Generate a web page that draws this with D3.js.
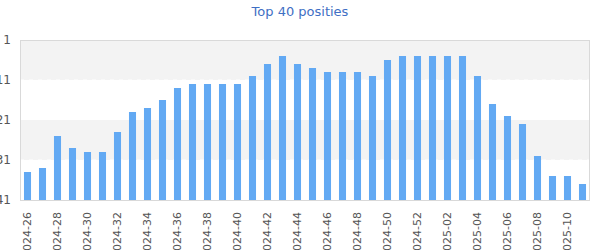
<!DOCTYPE html>
<html>
<head>
<meta charset="utf-8">
<script src="https://cdn.jsdelivr.net/npm/d3@7"></script>
<style>
  body { margin: 0; background: #fff; }
  text { font-family: "DejaVu Sans", sans-serif; }
</style>
</head>
<body>
<script>
const weeks = [
  "2024-26", "2024-27", "2024-28", "2024-29", "2024-30", "2024-31", "2024-32",
  "2024-33", "2024-34", "2024-35", "2024-36", "2024-37", "2024-38", "2024-39",
  "2024-40", "2024-41", "2024-42", "2024-43", "2024-44", "2024-45", "2024-46",
  "2024-47", "2024-48", "2024-49", "2024-50", "2024-51", "2024-52", "2025-01",
  "2025-02", "2025-03", "2025-04", "2025-05", "2025-06", "2025-07", "2025-08",
  "2025-09", "2025-10", "2025-11"
];
const positions = [
  34, 33, 25, 28, 29, 29, 24, 19, 18, 16, 13, 12, 12, 12, 12, 10, 7, 5, 7,
  8, 9, 9, 9, 10, 6, 5, 5, 5, 5, 5, 10, 17, 20, 22, 30, 35, 35, 37
];
const yTicks = [1, 11, 21, 31, 41];

const width = 600, height = 250;
const m = { top: 40, right: 10, bottom: 50, left: 20 };

const svg = d3.select("body").append("svg")
  .attr("width", width)
  .attr("height", height);

const x = d3.scaleBand()
  .domain(weeks)
  .range([m.left, width - m.right])
  .paddingInner(0.53)
  .paddingOuter(0.265);

const y = d3.scaleLinear()
  .domain([1, 41])
  .range([m.top, height - m.bottom]);

// alternating bands
const bands = d3.pairs(yTicks).filter((d, i) => i % 2 === 0);
svg.selectAll("rect.band").data(bands).enter().append("rect")
  .attr("class", "band")
  .attr("x", m.left)
  .attr("width", width - m.right - m.left)
  .attr("y", d => y(d[0]))
  .attr("height", d => y(d[1]) - y(d[0]))
  .attr("fill", "#f3f3f3");

// dashed grid lines
svg.selectAll("line.grid").data([11, 31]).enter().append("line")
  .attr("class", "grid")
  .attr("x1", m.left).attr("x2", width - m.right)
  .attr("y1", d => y(d)).attr("y2", d => y(d))
  .attr("stroke", "#fff")
  .attr("stroke-width", 1)
  .attr("stroke-dasharray", "4,5");

// bars
svg.selectAll("rect.bar").data(weeks).enter().append("rect")
  .attr("class", "bar")
  .attr("x", d => x(d))
  .attr("width", x.bandwidth())
  .attr("y", (d, i) => y(positions[i]))
  .attr("height", (d, i) => y(41) - y(positions[i]))
  .attr("fill", "#62a9f3");

// frame
svg.append("rect")
  .attr("x", m.left + 0.5)
  .attr("y", m.top + 0.5)
  .attr("width", width - m.right - m.left - 1)
  .attr("height", height - m.bottom - m.top)
  .attr("fill", "none")
  .attr("stroke", "#d9d9d9");

// y axis
const yAxis = svg.append("g")
  .attr("transform", `translate(${m.left},0)`)
  .call(d3.axisLeft(y).tickValues(yTicks).tickSize(0).tickPadding(9));
yAxis.select(".domain").remove();
yAxis.selectAll("text")
  .attr("font-size", 12)
  .attr("fill", "#555");

// x axis
const xAxis = svg.append("g")
  .attr("transform", `translate(0,${height - m.bottom})`)
  .call(d3.axisBottom(x).tickValues(weeks.filter((d, i) => i % 2 === 0)).tickSize(0));
xAxis.select(".domain").remove();
xAxis.selectAll("text")
  .attr("font-size", 11)
  .attr("fill", "#555")
  .attr("text-anchor", "end")
  .attr("transform", "rotate(-90)")
  .attr("x", -12)
  .attr("y", 0)
  .attr("dy", "0.35em");

// title
svg.append("text")
  .attr("x", width / 2)
  .attr("y", 16)
  .attr("text-anchor", "middle")
  .attr("font-size", 13)
  .attr("fill", "#3f6fc4")
  .text("Top 40 posities");
</script>
</body>
</html>
